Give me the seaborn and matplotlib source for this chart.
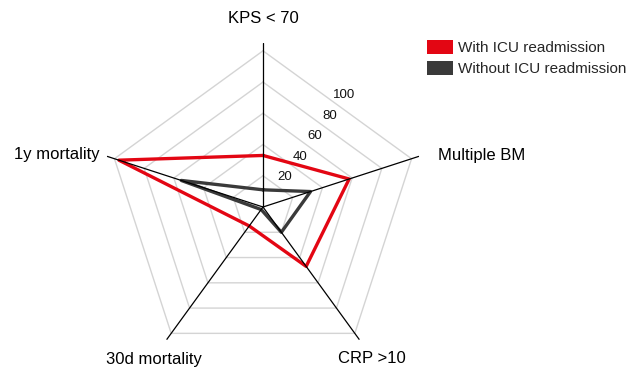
import numpy as np
import pandas as pd
import matplotlib
matplotlib.use('Agg')
import matplotlib.pyplot as plt
from matplotlib.patches import Patch
import seaborn as sns

# radar data
categories = ['KPS < 70', 'Multiple BM', 'CRP >10', '30d mortality', '1y mortality']
with_icu = [33, 58, 47, 15, 97]
without_icu = [11, 32, 20, 2, 55]
groups = ['With ICU readmission', 'Without ICU readmission']
levels = [20, 40, 60, 80, 100]

colors = {'With ICU readmission': '#e30613',
          'Without ICU readmission': '#3a3a3a'}

sns.set_theme(style='white')
plt.rcParams['font.family'] = ['Liberation Sans', 'DejaVu Sans']

n = len(categories)
theta = np.arange(n) * 2 * np.pi / n
theta_closed = np.append(theta, 2 * np.pi)

rows = []
for grp, vals in zip(groups, [with_icu, without_icu]):
    vals_closed = list(vals) + [vals[0]]
    for t, v in zip(theta_closed, vals_closed):
        rows.append({'group': grp, 'theta': t, 'value': v})
df = pd.DataFrame(rows)

fig = plt.figure(figsize=(6.3, 3.68), dpi=100)
ax = fig.add_axes([(263 - 164) / 630, (161 - 164) / 368, 328 / 630, 328 / 368],
                  projection='polar')
ax.set_theta_offset(np.pi / 2)
ax.set_theta_direction(-1)
ax.set_ylim(0, 105)
ax.grid(False)
ax.spines['polar'].set_visible(False)
ax.set_xticks([])
ax.set_yticks([])
ax.patch.set_alpha(0)

# pentagon grid
for lvl in levels:
    ax.plot(theta_closed, [lvl] * (n + 1), color='#d4d4d4', lw=1.0, zorder=1)

# series
sns.lineplot(data=df, x='theta', y='value', hue='group', palette=colors,
             sort=False, estimator=None, units='group', lw=2.4, legend=False,
             ax=ax, zorder=2)
ax.set_xlabel('')
ax.set_ylabel('')

# spokes on top
for t in theta:
    ax.plot([t, t], [0, 105], color='black', lw=0.9, zorder=3)

# radial tick labels along the KPS / Multiple BM bisector
for lvl in levels:
    ax.text(np.deg2rad(36), 0.809 * lvl + 7.5, str(lvl), ha='center', va='center',
            fontsize=9.5, color='#111111')

# category labels
label_pos = [(0, 121, 'center'), (73.6, 117, 'left'), (144.5, 119.5, 'center'),
             (215.7, 120, 'center'), (287.7, 110, 'right')]
for cat, (deg, r, ha) in zip(categories, label_pos):
    ax.text(np.deg2rad(deg), r, cat, ha=ha, va='center', fontsize=12,
            color='black', clip_on=False)

handles = [Patch(facecolor=colors[g], edgecolor='none') for g in groups]
fig.legend(handles, groups, loc='upper left',
           bbox_to_anchor=(427 / 630, 1 - 40 / 368), frameon=False,
           fontsize=11, handlelength=1.7, handleheight=1.05,
           handletextpad=0.3, labelspacing=0.35, borderpad=0, borderaxespad=0)

fig.savefig('out.png', dpi=100)
